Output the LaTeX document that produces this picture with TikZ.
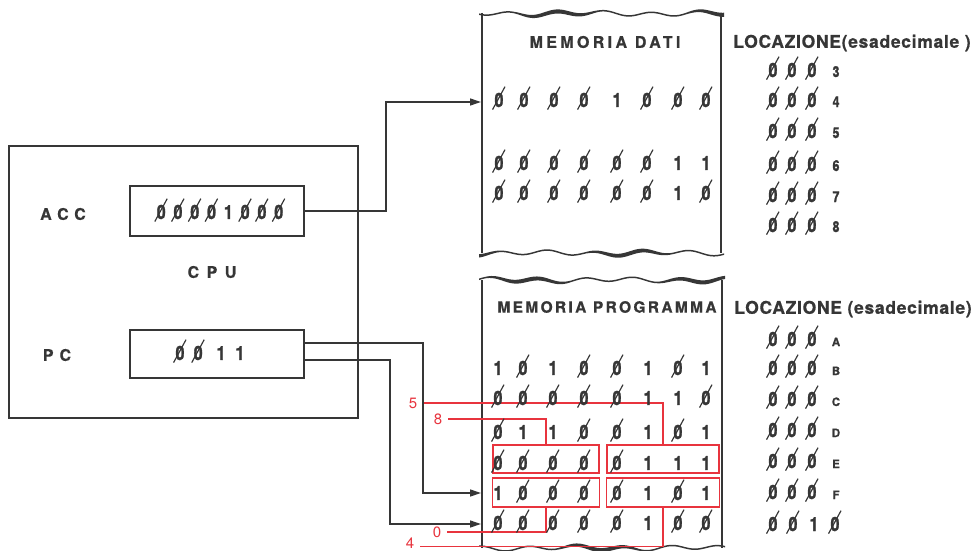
\documentclass[tikz,border=0pt]{standalone}
\usepackage{fontspec}
\usepackage{graphicx}
\setmainfont{TeX Gyre Heros}[BoldFeatures={FakeBold=0.6}]
\newfontfamily\condfont{TeX Gyre Heros}[FakeStretch=0.82, BoldFeatures={FakeBold=1.4}]
\usetikzlibrary{arrows.meta,calc}

\definecolor{ink}{HTML}{363636}
\definecolor{redline}{HTML}{E8343E}

% slashed zero: a bold 0 crossed by a thin slash that overshoots the glyph
\newcommand\zs{\leavevmode\rlap{\smash{\kern-0.13em\raisebox{-0.15em}{\rotatebox{61.5}{\rule{1.34em}{0.06em}}}}}0}
\newcommand\bitglyph[1]{\ifnum#1=0 \zs\else 1\fi}

% wavy torn edge of a memory sheet: #1,#2 x range, #3 base y, #4 phase
\newcommand\tornedge[4]{%
  \fill[ink] plot[domain=#1:#2, samples=120, smooth]
      (\x, {#3 + 2.1*sin(7.6*\x + #4) + 0.9*sin(2.9*\x + 2*#4) - (0.75 + 1.3*max(0,sin(2.1*\x + 3*#4)))})
    -- plot[domain=#2:#1, samples=120, smooth]
      (\x, {#3 + 2.1*sin(7.6*\x + #4) + 0.9*sin(2.9*\x + 2*#4) + (0.75 + 1.3*max(0,sin(2.1*\x + 3*#4)))})
    -- cycle;}

\begin{document}
\begin{tikzpicture}[x=1pt,y=-1pt,
  frame/.style={draw=ink, line width=2.6pt, rectangle, inner sep=0},
  side/.style={draw=ink, line width=2.4pt},
  conn/.style={draw=ink, line width=1.3pt},
  arr/.style={conn, -{Triangle[length=11pt,width=7pt]}},
  bit/.style={text=ink, font=\condfont\bfseries\fontsize{19.5}{19.5}\selectfont, inner sep=0},
  regbits/.style={text=ink, font=\condfont\bfseries\fontsize{19.5}{19.5}\selectfont, inner sep=0},
  lbl/.style={text=ink, font=\bfseries\fontsize{16}{16}\selectfont, inner sep=0},
  title/.style={text=ink, font=\bfseries\fontsize{16}{16}\selectfont\addfontfeature{LetterSpace=21}, inner sep=0},
  loctitle/.style={text=ink, font=\bfseries\fontsize{17.5}{17.5}\selectfont\addfontfeature{LetterSpace=4}, inner sep=0},
  hexz/.style={text=ink, font=\condfont\bfseries\fontsize{19.5}{19.5}\selectfont, inner sep=0, anchor=base},
  hexnum/.style={text=ink, font=\condfont\bfseries\fontsize{15}{15}\selectfont, inner sep=0, anchor=base},
  hexlet/.style={text=ink, font=\bfseries\fontsize{11.5}{11.5}\selectfont, inner sep=0, anchor=base},
  redbox/.style={draw=redline, line width=1.4pt, rectangle, inner sep=0},
  redl/.style={draw=redline, line width=1.2pt},
  rednum/.style={text=redline, font=\fontsize{15}{15}\selectfont, inner ysep=0, inner xsep=6pt},
]
\useasboundingbox[fill=white] (0,0) rectangle (975,551);

% ---------------- CPU ----------------
\node[frame, minimum width=349pt, minimum height=272pt] (cpu) at (183.5,282) {};
\node[frame, minimum width=174pt, minimum height=50pt] (acc) at (217,211) {};
\node[frame, minimum width=174pt, minimum height=48pt] (pc) at (217,354) {};
\node[lbl] (acclbl) at (63,214) {A\hspace{5.5pt}C\hspace{5.5pt}C};
\node[lbl] (cpulbl) at (212,272) {C\hspace{7.5pt}P\hspace{7.5pt}U};
\node[lbl] (pclbl) at (57,355) {P\hspace{6pt}C};
\node[regbits] (accbits) at (220,212)
  {\zs\kern7.9pt\zs\kern7.9pt\zs\kern7.9pt\zs\kern7.9pt1\kern7.9pt\zs\kern7.9pt\zs\kern7.9pt\zs};
\node[regbits] (pcbits) at (210,353) {\zs\kern9.3pt\zs\kern14pt1\kern10pt1};

% ---------------- data memory ----------------
\node[inner sep=0, minimum width=239pt, minimum height=240pt] (dati) at (601.5,133) {};
\tornedge{479}{724}{13.5}{0}
\tornedge{479}{724}{253}{70}
\draw[side] (482,13) -- (482,253);
\draw[side] (721,13) -- (721,253);
\node[title] (datititle) at (605,42) {MEMORIA DATI};
\coordinate (dIn) at (481,102);

\foreach \y/\bits [count=\r] in {100/{0,0,0,0,1,0,0,0}, 163/{0,0,0,0,0,0,1,1}, 193/{0,0,0,0,0,0,1,0}} {
  \foreach \b [count=\i] in \bits {
    \pgfmathsetmacro\xx{{499,524,554,584,617,647,678,706}[\i-1]}
    \node[bit] (d\r-\i) at (\xx,\y) {\bitglyph{\b}};
  }
}

\node[loctitle] (dloc) at (852,43) {LOCAZIONE(esadecimale )};
\foreach \base/\h [count=\k] in {77/3, 107/4, 138/5, 171/6, 202/7, 232/8} {
  \node[hexz] (dz\k a) at (773,\base) {\zs};
  \node[hexz] (dz\k b) at (792,\base) {\zs};
  \node[hexz] (dz\k c) at (812,\base) {\zs};
  \node[hexnum] (dh\k) at (836,\base) {\h};
}

% ---------------- program memory ----------------
\node[inner sep=0, minimum width=240pt, minimum height=267pt] (prog) at (602,413.5) {};
\tornedge{479}{725}{280}{140}
\tornedge{479}{725}{548}{210}
\draw[side] (482,280) -- (482,548);
\draw[side] (722,280) -- (722,548);
\node[title, font=\bfseries\fontsize{15.5}{15.5}\selectfont\addfontfeature{LetterSpace=15}] (progtitle) at (607,307) {MEMORIA PROGRAMMA};
\coordinate (fIn) at (481,493);
\coordinate (gIn) at (481,524);

% instruction fields in locations E and F
\node[redbox, minimum width=106pt, minimum height=28pt] (eL) at (546,459) {};
\node[redbox, minimum width=112pt, minimum height=28pt] (eR) at (663,459) {};
\node[redbox, minimum width=107pt, minimum height=29pt] (fL) at (546,492.5) {};
\node[redbox, minimum width=113pt, minimum height=29pt] (fR) at (663,492.5) {};

\node[rednum] (n5) at (413,403) {5};
\node[rednum] (n8) at (438,419) {8};
\node[rednum] (n0) at (437,532) {0};
\node[rednum] (n4) at (410,543) {4};
\draw[redl] (n5.east) -| (eR.north);
\draw[redl] (n8.east) -| (eL.north);
\draw[redl] (n0.east) -| (fL.south);
\draw[redl] ([yshift=-3.5pt]n4.east) -| (fR.south);

\foreach \y/\bits [count=\r] in {
    368/{1,0,1,0,0,1,0,1}, 398/{0,0,0,0,0,1,1,0}, 432/{0,1,1,0,0,1,0,1},
    463/{0,0,0,0,0,1,1,1}, 493/{1,0,0,0,0,1,0,1}, 523/{0,0,0,0,0,1,0,0}} {
  \foreach \b [count=\i] in \bits {
    \pgfmathsetmacro\xx{{498,523,553,584,617,648,678,706}[\i-1]}
    \node[bit] (p\r-\i) at (\xx,\y) {\bitglyph{\b}};
  }
}

\node[loctitle] (ploc) at (853,309) {LOCAZIONE (esadecimale)};
\foreach \base/\h [count=\k] in {346/A, 375/B, 406/C, 437/D, 468/E, 499/F} {
  \node[hexz] (pz\k a) at (773,\base) {\zs};
  \node[hexz] (pz\k b) at (792,\base) {\zs};
  \node[hexz] (pz\k c) at (812,\base) {\zs};
  \node[hexlet] (ph\k) at (836,\base) {\h};
}
\node[hexz] (pz7a) at (773,531) {\zs};
\node[hexz] (pz7b) at (793,531) {\zs};
\node[hexz] (pz7c) at (814,531) {1};
\node[hexz] (pz7d) at (835,531) {\zs};

% ---------------- connectors ----------------
\draw[arr] (acc.east) -| (386,102) -- (dIn);
\draw[arr] ([yshift=11pt]pc.east) -| (423,493) -- (fIn);
\draw[arr] ([yshift=-6pt]pc.east) -| (390,524) -- (gIn);
\end{tikzpicture}
\end{document}
